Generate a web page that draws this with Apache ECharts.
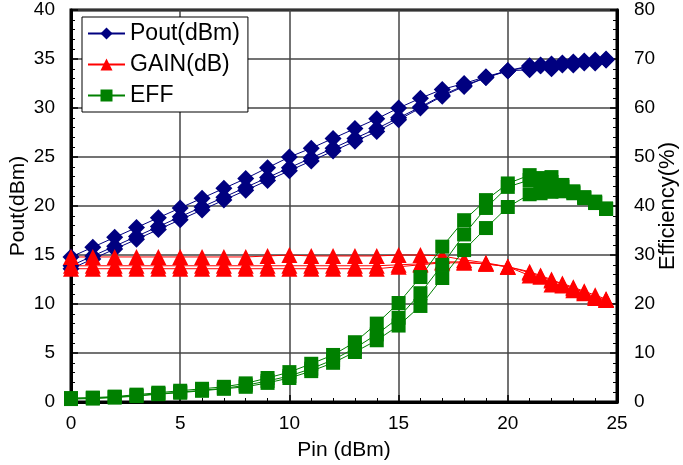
<!DOCTYPE html>
<html>
<head>
<meta charset="utf-8">
<script src="https://cdn.jsdelivr.net/npm/echarts@6/dist/echarts.min.js"></script>
<style>
  html, body { margin: 0; padding: 0; background: #fff; }
  #chart { width: 683px; height: 465px; }
</style>
</head>
<body>
<div id="chart"></div>
<script>
// input power (dBm), shared by all curves
var pin = [0, 1, 2, 3, 4, 5, 6, 7, 8, 9, 10, 11, 12, 13, 14, 15, 16, 17, 18, 19, 20,
           21, 21.5, 22, 22.5, 23, 23.5, 24, 24.5];

// Pout (dBm), three measured curves
var poutA = [14.8, 15.8, 16.8, 17.8, 18.8, 19.8, 20.8, 21.8, 22.8, 23.9, 25.0, 25.9, 26.9, 27.9, 28.9,
             30.0, 31.0, 31.9, 32.5, 33.2, 33.8, 34.2, 34.3, 34.4, 34.6, 34.7, 34.8, 34.9, 35.0];
var poutB = [13.9, 14.9, 15.9, 16.9, 17.9, 18.9, 19.9, 20.9, 21.9, 22.9, 23.9, 24.9, 25.9, 26.9, 27.9,
             29.0, 30.1, 31.3, 32.3, 33.1, 33.8, 34.3, 34.4, 34.5, 34.5, 34.6, 34.7, 34.7, 34.9];
var poutC = [13.6, 14.6, 15.6, 16.6, 17.6, 18.6, 19.6, 20.6, 21.6, 22.6, 23.6, 24.6, 25.6, 26.6, 27.6,
             28.8, 30.0, 31.2, 32.2, 33.1, 33.8, 33.9, 34.3, 34.0, 34.4, 34.4, 34.6, 34.6, 34.9];

// GAIN (dB)
var gainA = [14.8, 14.8, 14.8, 14.8, 14.8, 14.8, 14.8, 14.8, 14.8, 14.9, 15.0, 14.9, 14.9, 14.9, 14.9,
             15.0, 15.0, 14.9, 14.5, 14.2, 13.8, 13.2, 12.8, 12.4, 12.1, 11.7, 11.3, 10.9, 10.5];
var gainB = [13.9, 13.9, 13.9, 13.9, 13.9, 13.9, 13.9, 13.9, 13.9, 13.9, 13.9, 13.9, 13.9, 13.9, 13.9,
             14.0, 14.1, 14.3, 14.3, 14.1, 13.8, 13.3, 12.9, 12.5, 12.0, 11.6, 11.2, 10.7, 10.4];
var gainC = [13.6, 13.6, 13.6, 13.6, 13.6, 13.6, 13.6, 13.6, 13.6, 13.6, 13.6, 13.6, 13.6, 13.6, 13.6,
             13.8, 14.0, 14.2, 14.2, 14.1, 13.8, 12.9, 12.8, 12.0, 11.9, 11.4, 11.1, 10.6, 10.4];

// EFF (%)
var effA = [0.8, 0.9, 1.1, 1.5, 1.9, 2.3, 2.7, 3.1, 3.8, 4.9, 6.1, 7.8, 9.6, 12.2, 16.0,
            20.2, 25.5, 31.7, 37.1, 41.2, 44.6, 46.3, 45.7, 45.9, 44.3, 43.0, 41.8, 40.9, 39.5];
var effB = [0.7, 0.8, 1.0, 1.3, 1.7, 2.0, 2.4, 2.8, 3.4, 4.3, 5.3, 6.8, 8.6, 11.0, 13.8,
            17.2, 22.2, 28.0, 34.2, 39.6, 43.9, 45.3, 45.0, 44.9, 43.9, 42.8, 41.7, 40.7, 39.4];
var effC = [0.6, 0.7, 0.9, 1.2, 1.6, 1.9, 2.3, 2.7, 3.1, 3.9, 4.9, 6.3, 8.0, 10.2, 12.6,
            15.6, 19.6, 25.3, 31.0, 35.5, 39.8, 42.4, 42.6, 42.9, 43.0, 42.6, 41.6, 40.6, 39.4];

var xTicks = [0, 5, 10, 15, 20, 25];

(function () {
    var myChart = echarts.init(document.getElementById('chart'));
    var font = "'Liberation Sans', Arial, sans-serif";

    function pairs(ys) {
        return pin.map(function (x, i) { return [x, ys[i]]; });
    }

    function makeSeries(name, ys, color, symbol, size, yIndex) {
        return {
            name: name,
            type: 'line',
            yAxisIndex: yIndex,
            data: pairs(ys),
            symbol: symbol,
            symbolSize: size,
            lineStyle: { color: color, width: 1 },
            itemStyle: { color: color },
            animation: false
        };
    }

    var axisCommon = {
        nameMoveOverlap: false,
        axisLine: { show: true, lineStyle: { color: '#000', width: 3 } },
        axisTick: { show: true, inside: true, length: 7, lineStyle: { color: '#000', width: 1.5 } },
        minorTick: { show: true, length: 4, lineStyle: { color: '#000', width: 1 } },
        axisLabel: { color: '#000', fontSize: 19, fontFamily: font },
        nameTextStyle: { color: '#000', fontSize: 21, fontFamily: font }
    };

    var option = {
        backgroundColor: '#fff',
        animation: false,
        grid: {
            left: 71, right: 66, top: 10, bottom: 63,
            outerBoundsMode: 'none',
            containLabel: false,
            show: true, borderColor: '#000', borderWidth: 3
        },
        legend: {
            orient: 'vertical',
            left: 82,
            top: 17,
            data: ['Pout(dBm)', 'GAIN(dB)', 'EFF'],
            backgroundColor: '#fff',
            borderColor: '#000',
            borderWidth: 1,
            padding: [5, 8, 5, 5],
            itemGap: 8,
            itemWidth: 37,
            itemHeight: 15,
            textStyle: { color: '#000', fontSize: 23, fontFamily: font }
        },
        xAxis: Object.assign({}, axisCommon, {
            type: 'value',
            min: 0, max: 25, interval: 5,
            minorTick: Object.assign({}, axisCommon.minorTick, { splitNumber: 5 }),
            name: 'Pin (dBm)',
            nameLocation: 'middle',
            nameGap: 38,
            axisLabel: Object.assign({}, axisCommon.axisLabel, {
                margin: 12,
                formatter: function (v) { return xTicks.indexOf(v) >= 0 ? String(v) : ''; }
            }),
            splitLine: { show: true, lineStyle: { color: '#444', width: 1.5 } }
        }),
        yAxis: [
            Object.assign({}, axisCommon, {
                type: 'value',
                min: 0, max: 40, interval: 5,
                minorTick: Object.assign({}, axisCommon.minorTick, { splitNumber: 5 }),
                name: 'Pout(dBm)',
                nameLocation: 'middle',
                nameGap: 42,
                axisLabel: Object.assign({}, axisCommon.axisLabel, { margin: 16 }),
                splitLine: { show: true, lineStyle: { color: '#444', width: 1.5 } }
            }),
            Object.assign({}, axisCommon, {
                type: 'value',
                position: 'right',
                min: 0, max: 80, interval: 10,
                minorTick: Object.assign({}, axisCommon.minorTick, { splitNumber: 5 }),
                name: 'Efficiency(%)',
                nameLocation: 'middle',
                nameGap: 40,
                nameRotate: 90,
                nameTextStyle: { color: '#000', fontSize: 22, fontFamily: font },
                axisLabel: Object.assign({}, axisCommon.axisLabel, { margin: 17 }),
                splitLine: { show: false }
            })
        ],
        series: [
            makeSeries('Pout(dBm)', poutA, '#000080', 'diamond', 17, 0),
            makeSeries('Pout(dBm)', poutB, '#000080', 'diamond', 17, 0),
            makeSeries('Pout(dBm)', poutC, '#000080', 'diamond', 17, 0),
            makeSeries('GAIN(dB)', gainA, '#ff0000', 'triangle', 16, 0),
            makeSeries('GAIN(dB)', gainB, '#ff0000', 'triangle', 16, 0),
            makeSeries('GAIN(dB)', gainC, '#ff0000', 'triangle', 16, 0),
            makeSeries('EFF', effA, '#008000', 'rect', 14, 1),
            makeSeries('EFF', effB, '#008000', 'rect', 14, 1),
            makeSeries('EFF', effC, '#008000', 'rect', 14, 1)
        ]
    };

    myChart.setOption(option);
})();
</script>
</body>
</html>
